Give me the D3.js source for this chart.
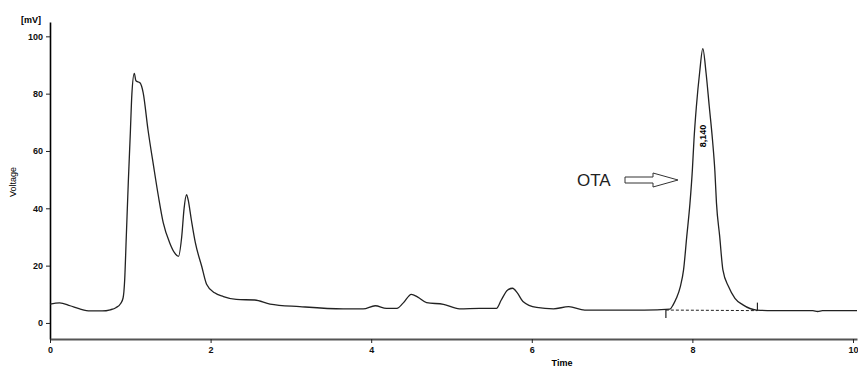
<!DOCTYPE html>
<html>
<head>
<meta charset="utf-8">
<script src="https://cdn.jsdelivr.net/npm/d3@7"></script>
<style>
  body { margin: 0; background: #fff; }
  svg { display: block; font-family: "Liberation Sans", Arial, sans-serif; }
</style>
</head>
<body>
<svg id="chart" width="858" height="368"></svg>
<script>
// chromatogram trace
const times = [0.00, 0.12, 0.25, 0.37, 0.50, 0.65, 0.75, 0.82, 0.88, 0.91, 0.93, 0.95, 0.975, 1.00, 1.02, 1.05, 1.07, 1.12, 1.16, 1.22, 1.29, 1.35, 1.41, 1.49, 1.55, 1.60, 1.64, 1.67, 1.70, 1.72, 1.76, 1.81, 1.89, 1.95, 2.05, 2.16, 2.32, 2.55, 2.74, 3.11, 3.65, 3.90, 4.05, 4.19, 4.32, 4.40, 4.50, 4.58, 4.69, 4.90, 5.10, 5.35, 5.56, 5.62, 5.70, 5.76, 5.82, 5.89, 6.06, 6.27, 6.46, 6.66, 7.00, 7.40, 7.72, 7.76, 7.80, 7.85, 7.89, 7.93, 7.97, 8.00, 8.02, 8.05, 8.09, 8.13, 8.17, 8.21, 8.25, 8.28, 8.30, 8.34, 8.38, 8.45, 8.53, 8.63, 8.80, 9.00, 9.50, 9.56, 9.62, 10.05];
const voltages = [6.6, 7.0, 6.0, 4.9, 4.2, 4.2, 4.6, 5.3, 6.8, 8.7, 15, 30, 49, 66, 80, 87.1, 84.5, 83.8, 80.4, 67.5, 54.7, 44.2, 35, 28, 24.5, 23.2, 30, 40, 44.8, 43, 36, 28, 19.7, 13.5, 10.5, 9.2, 8.2, 8.0, 6.6, 5.7, 4.9, 4.9, 6.0, 5.1, 5.1, 7.0, 10.0, 9.0, 7.1, 6.5, 4.9, 5.1, 5.1, 8.0, 11.5, 12.1, 10.5, 7.5, 5.4, 4.9, 5.7, 4.5, 4.5, 4.5, 4.8, 6.3, 8.6, 12.7, 18.5, 30.2, 41.8, 53.5, 64, 75.6, 87.3, 95.7, 87.3, 75.6, 64, 53, 41.8, 30.2, 18.5, 12.7, 8.6, 6.3, 4.5, 4.3, 4.3, 4.0, 4.3, 4.3];

const xTicks = [0, 2, 4, 6, 8, 10];
const yTicks = [0, 20, 40, 60, 80, 100];

// integration marks of the OTA peak
const markTimes = [7.67, 8.81];
const markVoltages = [4.5, 4.3];
const peakTime = 8.13;
const peakLabel = "8,140";

const svg = d3.select("#chart");

const x = d3.scaleLinear().domain([0, 10.05]).range([50, 857]);
const y = d3.scaleLinear().domain([-5.6, 105]).range([339, 22]);

// axes
const yAxis = svg.append("g")
  .attr("transform", "translate(50,0)")
  .call(d3.axisLeft(y).tickValues(yTicks).tickSize(4).tickSizeOuter(0).tickPadding(3));
yAxis.select(".domain").attr("stroke", "#000").attr("stroke-width", 1.6);

const xAxis = svg.append("g")
  .attr("transform", "translate(0,339)")
  .call(d3.axisBottom(x).tickValues(xTicks).tickSize(4).tickSizeOuter(0).tickPadding(4));
xAxis.select(".domain").attr("stroke", "#555").attr("stroke-width", 2);

svg.selectAll(".tick text")
  .attr("font-size", 9)
  .attr("font-weight", "bold")
  .attr("fill", "#111");
svg.selectAll(".tick line").attr("stroke", "#222");

svg.append("text")
  .attr("x", 41).attr("y", 23)
  .attr("text-anchor", "end")
  .attr("font-size", 9)
  .attr("font-weight", "bold")
  .text("[mV]");

svg.append("text")
  .attr("transform", "translate(16,182) rotate(-90)")
  .attr("text-anchor", "middle")
  .attr("font-size", 9)
  .text("Voltage");

svg.append("text")
  .attr("x", 562).attr("y", 366)
  .attr("text-anchor", "middle")
  .attr("font-size", 9)
  .attr("font-weight", "bold")
  .text("Time");

// trace
const trace = times.map((t, i) => [t, voltages[i]]);
svg.append("path")
  .datum(trace)
  .attr("fill", "none")
  .attr("stroke", "#222")
  .attr("stroke-width", 1.3)
  .attr("d", d3.line().x(d => x(d[0])).y(d => y(d[1])).curve(d3.curveMonotoneX));

// dashed baseline and marks
svg.append("line")
  .attr("x1", x(markTimes[0])).attr("y1", y(markVoltages[0]))
  .attr("x2", x(markTimes[1])).attr("y2", y(markVoltages[1]))
  .attr("stroke", "#222")
  .attr("stroke-width", 1)
  .attr("stroke-dasharray", "3,2");

svg.append("line")
  .attr("x1", x(markTimes[0])).attr("x2", x(markTimes[0]))
  .attr("y1", y(markVoltages[0])).attr("y2", y(markVoltages[0]) + 8)
  .attr("stroke", "#222").attr("stroke-width", 1.2);
svg.append("line")
  .attr("x1", x(markTimes[1])).attr("x2", x(markTimes[1]))
  .attr("y1", y(markVoltages[1])).attr("y2", y(markVoltages[1]) - 8)
  .attr("stroke", "#222").attr("stroke-width", 1.2);

// peak retention time label
svg.append("text")
  .attr("transform", `translate(${x(peakTime) + 3},136) rotate(-90)`)
  .attr("text-anchor", "middle")
  .attr("font-size", 9)
  .attr("font-weight", "bold")
  .text(peakLabel);

// OTA annotation with hollow arrow
svg.append("text")
  .attr("x", 577).attr("y", 186)
  .attr("font-size", 17)
  .attr("fill", "#222")
  .text("OTA");

const ay = 180;
svg.append("path")
  .attr("d", `M625,${ay - 3} L653,${ay - 3} L653,${ay - 7} L678,${ay} L653,${ay + 7} L653,${ay + 3} L625,${ay + 3} Z`)
  .attr("fill", "#fff")
  .attr("stroke", "#333")
  .attr("stroke-width", 1);
</script>
</body>
</html>
